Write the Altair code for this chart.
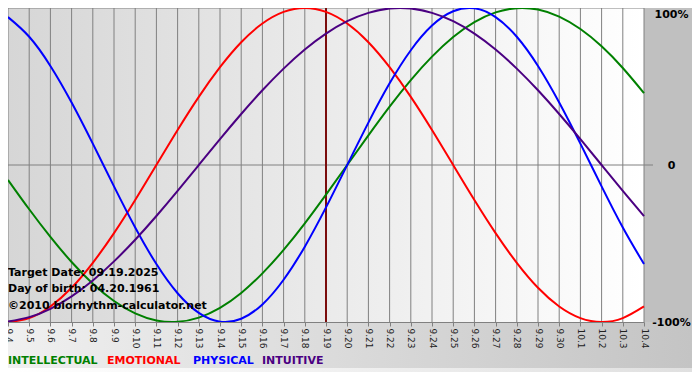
import altair as alt
import pandas as pd

days = ["9.4", "9.5", "9.6", "9.7", "9.8", "9.9", "9.10", "9.11", "9.12", "9.13",
        "9.14", "9.15", "9.16", "9.17", "9.18", "9.19", "9.20", "9.21", "9.22", "9.23",
        "9.24", "9.25", "9.26", "9.27", "9.28", "9.29", "9.30", "10.1", "10.2", "10.3", "10.4"]

intellectual = [-0.095, -0.282, -0.458, -0.618, -0.756, -0.866, -0.945, -0.990, -0.999, -0.972,
                -0.910, -0.815, -0.690, -0.541, -0.372, -0.189, 0.0, 0.189, 0.372, 0.541,
                0.690, 0.815, 0.910, 0.972, 0.999, 0.990, 0.945, 0.866, 0.756, 0.618, 0.458]
emotional = [-1.0, -0.975, -0.901, -0.782, -0.623, -0.434, -0.223, 0.0, 0.223, 0.434,
             0.623, 0.782, 0.901, 0.975, 1.0, 0.975, 0.901, 0.782, 0.623, 0.434,
             0.223, 0.0, -0.223, -0.434, -0.623, -0.782, -0.901, -0.975, -1.0, -0.975, -0.901]
physical = [0.942, 0.817, 0.631, 0.398, 0.136, -0.136, -0.398, -0.631, -0.817, -0.942,
            -0.998, -0.979, -0.888, -0.731, -0.520, -0.270, 0.0, 0.270, 0.520, 0.731,
            0.888, 0.979, 0.998, 0.942, 0.817, 0.631, 0.398, 0.136, -0.136, -0.398, -0.631]
intuitive = [-0.997, -0.969, -0.916, -0.837, -0.736, -0.614, -0.476, -0.325, -0.165, 0.0,
             0.165, 0.325, 0.476, 0.614, 0.736, 0.837, 0.916, 0.969, 0.997, 0.997,
             0.969, 0.916, 0.837, 0.736, 0.614, 0.476, 0.325, 0.165, 0.0, -0.165, -0.325]

series_names = ["INTELLECTUAL", "EMOTIONAL", "PHYSICAL", "INTUITIVE"]
series_colors = ["#008000", "#ff0000", "#0000ff", "#4b0082"]
target_day = "9.19"
info_lines = ["Target Date: 09.19.2025", "Day of birth: 04.20.1961", "\u00a92010 biorhythm-calculator.net"]
y_ticks = [1, 0, -1]
y_tick_labels = ["100%", "0", "-100%"]

W, H = 636, 314
FONT = "DejaVu Sans"

rows = []
for name, vals in zip(series_names, [intellectual, emotional, physical, intuitive]):
    for i, (d, v) in enumerate(zip(days, vals)):
        rows.append({"day": d, "idx": i, "series": name, "value": v})
df = pd.DataFrame(rows)
days_df = pd.DataFrame({"day": days})
one = pd.DataFrame({"k": [0]})

label_expr = "datum.value == {} ? '{}' : datum.value == {} ? '{}' : '{}'".format(
    y_ticks[0], y_tick_labels[0], y_ticks[1], y_tick_labels[1], y_tick_labels[2])

x_axis = alt.Axis(title=None, labelAngle=90, labelAlign="left", labelBaseline="middle",
                  labelFont=FONT, labelFontSize=9, labelColor="#222222",
                  tickColor="#808080", tickSize=4, domainColor="#808080",
                  grid=False, labelPadding=2, zindex=1, labelOverlap=False)
y_axis = alt.Axis(title=None, orient="right", values=y_ticks, labelExpr=label_expr,
                  tickSize=0, domain=False, grid=False, labelAlign="center",
                  labelPadding=27, labelFont=FONT, labelFontSize=11, labelFontWeight="bold",
                  labelColor="#000000", zindex=1,
                  labelBaseline={"condition": {"test": "datum.value == 1", "value": "top"}, "value": "middle"})

x_scale = alt.Scale(type="point", domain=days, padding=0)
y_scale = alt.Scale(domain=[-1, 1], nice=False, zero=False)
X = alt.X("day:O", scale=x_scale, axis=x_axis)


def grad(c0, c1):
    return alt.LinearGradient(gradient="linear",
                              stops=[alt.GradientStop(color=c0, offset=0),
                                     alt.GradientStop(color=c1, offset=1)],
                              x1=0, x2=1, y1=0, y2=0)


plot_bg = alt.Chart(one).mark_rect(fill=grad("#d6d6d6", "#ffffff")).encode(
    x=alt.value(0), x2=alt.value(W), y=alt.value(0), y2=alt.value(H))
right_panel = alt.Chart(one).mark_rect(fill="#c0c0c0").encode(
    x=alt.value(W), x2=alt.value(W + 48), y=alt.value(0), y2=alt.value(H))
bottom_band = alt.Chart(one).mark_rect(fill=grad("#f0f0f0", "#c4c4c4")).encode(
    x=alt.value(0), x2=alt.value(W + 48), y=alt.value(H), y2=alt.value(H + 46))
bottom_strip = alt.Chart(one).mark_rect(fill=grad("#ffffff", "#e0e0e0")).encode(
    x=alt.value(0), x2=alt.value(W + 48), y=alt.value(H + 46), y2=alt.value(H + 50))

grid = alt.Chart(days_df).mark_rule(color="#808080", strokeWidth=1).encode(x=X)

zero_rule = alt.Chart(pd.DataFrame({"v": [0]})).mark_rule(color="#808080", strokeWidth=1).encode(
    y=alt.Y("v:Q", scale=y_scale, axis=y_axis), x=alt.value(0), x2=alt.value(W + 9))
top_rule = alt.Chart(pd.DataFrame({"v": [1]})).mark_rule(color="#808080", strokeWidth=1).encode(
    y=alt.Y("v:Q", scale=y_scale, axis=y_axis), x=alt.value(0), x2=alt.value(W))

target = alt.Chart(pd.DataFrame({"day": [target_day]})).mark_rule(
    color="#7a0c0c", strokeWidth=2).encode(x=X)

lines = alt.Chart(df).mark_line(strokeWidth=2, interpolate="natural").encode(
    x=X,
    y=alt.Y("value:Q", scale=y_scale, axis=y_axis),
    color=alt.Color("series:N", scale=alt.Scale(domain=series_names, range=series_colors), legend=None),
    order=alt.Order("idx:Q"),
)

info_y = [265, 281, 298]
info_layers = [
    alt.Chart(one).mark_text(text=t, align="left", baseline="middle", font=FONT,
                             fontSize=11, fontWeight="bold", color="#000000").encode(
        x=alt.value(0), y=alt.value(yy))
    for t, yy in zip(info_lines, info_y)
]

legend_x = [0, 99, 185, 254]
legend_layers = [
    alt.Chart(one).mark_text(text=n, align="left", baseline="middle", font=FONT,
                             fontSize=11, fontWeight="bold", color=c).encode(
        x=alt.value(lx), y=alt.value(H + 39))
    for n, c, lx in zip(series_names, series_colors, legend_x)
]

chart = alt.layer(
    plot_bg, right_panel, bottom_band, bottom_strip, grid, zero_rule, top_rule,
    target, lines, *info_layers, *legend_layers
).properties(
    width=W, height=H,
    autosize=alt.AutoSizeParams(type="none"),
    padding={"left": 0, "top": 0, "right": 48, "bottom": 50},
).configure_view(stroke="transparent").configure(background="#ffffff")

chart.save("out.html", embed_options={"renderer": "svg", "actions": False})
